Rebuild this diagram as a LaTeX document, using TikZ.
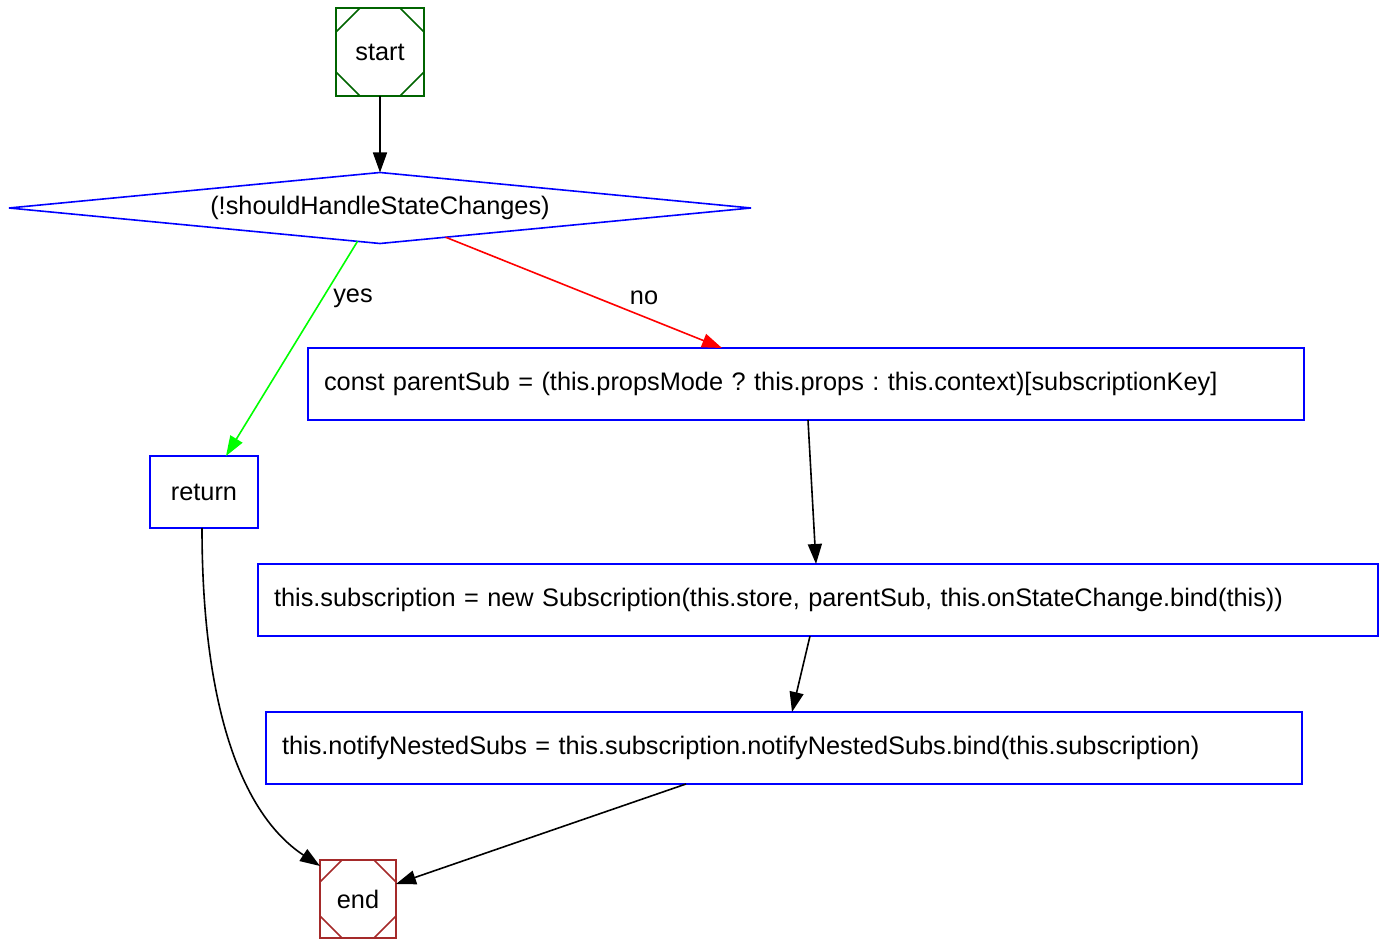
\documentclass[tikz,border=0pt]{standalone}
\usepackage{fontspec}
\setmainfont{Liberation Sans}
\usetikzlibrary{arrows.meta,shapes.geometric}
\definecolor{startgreen}{RGB}{0,100,0}
\definecolor{endbrown}{RGB}{165,42,42}
\frenchspacing
\newcommand{\cornerlines}[3]{%
 \draw[#2] ([xshift=#3]#1.north west) -- ([yshift=-#3]#1.north west);
 \draw[#2] ([xshift=-#3]#1.north east) -- ([yshift=-#3]#1.north east);
 \draw[#2] ([xshift=#3]#1.south west) -- ([yshift=#3]#1.south west);
 \draw[#2] ([xshift=-#3]#1.south east) -- ([yshift=#3]#1.south east);
}
\tikzset{
  every node/.style={font=\fontsize{19}{23}\selectfont\frenchspacing, outer sep=0pt},
  lw/.style={line width=1.2pt},
  termbox/.style={lw, draw, rectangle, inner sep=0pt},
  actbox/.style={lw, draw=blue, rectangle, inner sep=0pt, minimum height=54pt},
  codebox/.style={lw, draw=blue, rectangle, inner xsep=12pt, inner ysep=0pt, minimum height=54pt, align=left},
  decision/.style={lw, draw=blue, diamond, aspect=10, inner sep=0pt, minimum width=556.5pt, minimum height=53.25pt},
  flow/.style={lw, -{Triangle[length=15pt,width=10.5pt]}},
  lbl/.style={inner sep=1pt}
}
\begin{document}
\begin{tikzpicture}[x=0.75pt,y=-0.75pt]
\useasboundingbox (0,0) rectangle (1386,948);
\node[termbox, draw=startgreen, minimum width=66pt, minimum height=66pt] (s) at (380,52) {start};
\cornerlines{s}{lw,startgreen}{18pt}
\node[decision] (d) at (380,208) {(!shouldHandleStateChanges)};
\node[actbox, minimum width=81pt] (r) at (204,492) {return};
\node[codebox, text width=723pt] (b1) at (806,384) {const parentSub = (this.propsMode ? this.props : this.context)[subscriptionKey]};
\node[codebox, text width=816pt] (b2) at (818,600) {this.subscription = new Subscription(this.store, parentSub, this.onStateChange.bind(this))};
\node[codebox, text width=753pt] (b3) at (784,748) {this.notifyNestedSubs = this.subscription.notifyNestedSubs.bind(this.subscription)};
\node[termbox, draw=endbrown, minimum width=57pt, minimum height=58.5pt] (e) at (358,899) {end};
\cornerlines{e}{lw,endbrown}{16.5pt}

\draw[flow] (s.south) -- (d.north);
\draw[flow, color=green] (d.236) -- ([xshift=16.5pt]r.north);
\draw[flow, color=red] (d.-24) -- ([xshift=-63pt]b1.north);
\node[lbl] (ly) at (353,298) {yes};
\node[lbl] (ln) at (644,298) {no};
\draw[flow] ([xshift=1.5pt]b1.south) -- ([xshift=-1.5pt]b2.north);
\draw[flow] ([xshift=-6pt]b2.south) -- ([xshift=6pt]b3.north);
\draw[flow] ([xshift=-1.5pt]r.south) .. controls (202,690) and (235,810) .. ([yshift=-4.5pt]e.north west);
\draw[flow] ([xshift=-73.5pt]b3.south) -- ([yshift=-18pt]e.north east);
\end{tikzpicture}
\end{document}
